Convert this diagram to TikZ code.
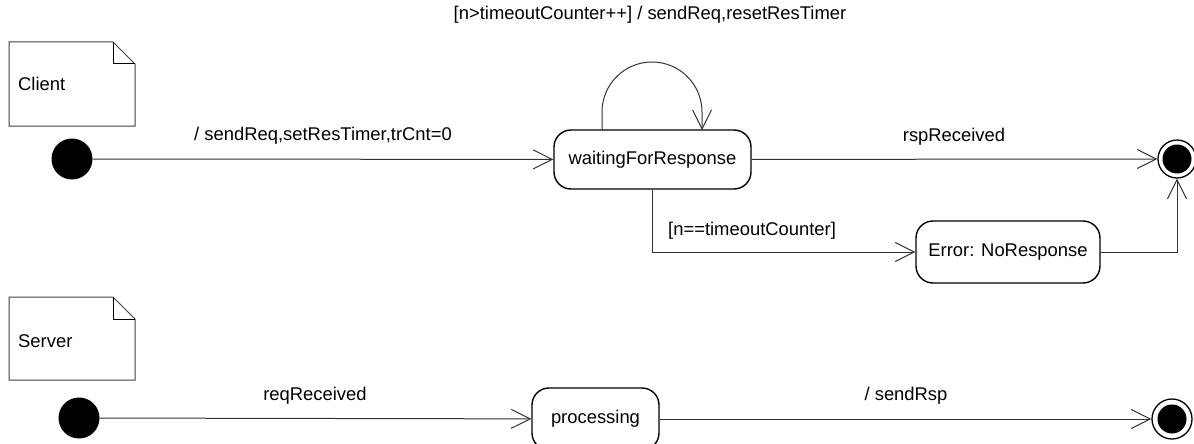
\documentclass[tikz,border=0pt]{standalone}
\usepackage{fontspec}
\setmainfont{Liberation Sans}
\usetikzlibrary{arrows.meta}
\begin{document}
\begin{tikzpicture}[x=1pt,y=-1pt,
  every node/.style={font=\fontsize{18.4}{22}\selectfont},
  statebox/.style={draw, line width=1.4pt, rounded corners=17pt, inner sep=0pt, minimum height=59pt},
  initst/.style={circle, fill, inner sep=0pt, minimum size=41pt},
  finalst/.style={circle, draw, line width=1.3pt, inner sep=0pt, minimum size=38pt,
    path picture={\fill (path picture bounding box.center) circle (14.5pt);}},
  tr/.style={draw=black!80, line width=1pt, -{Straight Barb[length=19pt,width=19pt,line width=1pt]}},
  lbl/.style={anchor=base, inner sep=0pt},
  noteline/.style={draw=black!75, line width=1pt}
]
\useasboundingbox (0,0) rectangle (1194,444);
\clip (0,0) rectangle (1194,444);

% notes
\path[noteline] (9,42) -- (113,42) -- (135,64) -- (135,126) -- (9,126) -- cycle;
\draw[line width=1pt] (113,42) -- (113,64) -- (135,64);
\node[anchor=base west, inner sep=0pt] (clientnote) at (18,91) {Client};
\path[noteline] (9,297) -- (113,297) -- (135,319) -- (135,380) -- (9,380) -- cycle;
\draw[line width=1pt] (113,297) -- (113,319) -- (135,319);
\node[anchor=base west, inner sep=0pt] (servernote) at (18,347) {Server};

% client states
\node[initst] (ci) at (72,159) {};
\node[statebox, minimum width=197pt] (wait) at (652.5,159.5) {waitingForResponse};
\node[statebox, minimum width=184pt, minimum height=62pt] (err) at (1008,252) {Error: NoResponse};
\node[finalst] (cf) at (1177,159) {};

\coordinate (loopA) at (602,130);
\coordinate (loopB) at (702,130);

\draw[tr] (ci) -- (wait);
\draw[tr] (loopA) -- (602,112) arc[start angle=180, end angle=360, radius=50] -- (loopB);
\draw[tr] (wait) -- (cf);
\draw[tr] (wait.south) |- (err.west);
\draw[tr] (err.east) -| (cf.south);

\node[lbl] (l1) at (323,140) {/ sendReq,setResTimer,trCnt=0};
\node[lbl] (l2) at (650,20) {[n>timeoutCounter++] / sendReq,resetResTimer};
\node[lbl] (l3) at (954,141) {rspReceived};
\node[lbl, anchor=base west] (l4) at (668,235) {[n==timeoutCounter]};

% server states
\node[initst] (si) at (79,418) {};
\node[statebox, minimum width=127pt, minimum height=62pt] (proc) at (595.5,419) {processing};
\node[finalst, minimum size=40pt] (sf) at (1172,419) {};

\draw[tr] (si) -- (proc);
\draw[tr] (proc) -- (sf);

\node[lbl] (l5) at (315,400) {reqReceived};
\node[lbl] (l6) at (906,400) {/ sendRsp};
\end{tikzpicture}
\end{document}
